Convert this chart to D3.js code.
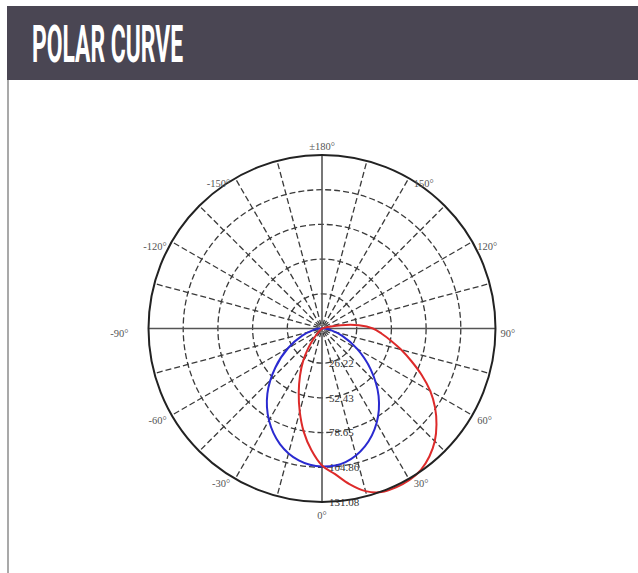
<!DOCTYPE html>
<html>
<head>
<meta charset="utf-8">
<script src="https://cdn.jsdelivr.net/npm/d3@7"></script>
<style>
  body { margin: 0; background: #fff; }
</style>
</head>
<body>
<div id="chart"></div>
<script>
// ring values (cd) and the angle labels around the dial
const ringValues = [26.22, 52.43, 78.65, 104.86, 131.08];
const gridAngles = [15, 30, 45, 60, 75, 105, 120, 135, 150, 165, 195, 210, 225, 240, 255, 285, 300, 315, 330, 345];
const axisAngles = [0, 90];
const labelAngles = [0, 30, 60, 90, 120, 150, 180, -150, -120, -90, -60, -30];
const labelTexts = ["0°", "30°", "60°", "90°", "120°", "150°", "±180°", "-150°", "-120°", "-90°", "-60°", "-30°"];

// C0-C180 plane (blue)
const blueAngles = [-100, -90, -80, -70, -60, -50, -40, -30, -20, -10, 0, 10, 20, 30, 40, 50, 60, 70, 80, 90, 100];
const blueValues = [0, 2.3, 6.8, 15.9, 29.5, 46.1, 64.2, 80.1, 92.9, 101.2, 104.3, 102.5, 94.8, 82.5, 66.5, 48.0, 30.5, 16.3, 6.8, 2.3, 0];

// C90-C270 plane (red)
const redAngles = [-50, -45, -40, -35, -30, -25, -20, -15, -10, -5, 0, 5, 10, 15, 20, 25, 30, 35, 40, 45, 50, 55, 60, 65, 70, 75, 80, 85, 90, 95, 100, 105, 110];
const redValues = [0, 3.0, 9.1, 18.1, 28.7, 39.3, 51.4, 65.0, 79.3, 92.2, 103.5, 110.3, 119.4, 127.2, 131.5, 132.4, 132.2, 130.3, 126.2, 120.5, 112.9, 104.3, 94.4, 83.1, 71.8, 62.0, 52.9, 45.3, 38.5, 28.0, 14.4, 4.5, 0];

const width = 638, height = 573;
const cx = 322, cy = 328.5, R = 173.5;

const svg = d3.select("#chart").append("svg")
  .attr("width", width).attr("height", height);

// header bar
svg.append("rect").attr("x", 7).attr("y", 6).attr("width", width - 7).attr("height", 74)
  .attr("fill", "#4a4653");
svg.append("text").text("POLAR CURVE")
  .attr("x", 32).attr("y", 62)
  .attr("font-family", "Roboto").attr("font-weight", 700).attr("font-size", 51)
  .attr("textLength", 151).attr("lengthAdjust", "spacingAndGlyphs")
  .attr("fill", "#fff");
svg.append("line").attr("x1", 8).attr("x2", 8).attr("y1", 80).attr("y2", height)
  .attr("stroke", "#8c8c8c").attr("stroke-width", 1.5);

const r = d3.scaleLinear().domain([0, 131.08]).range([0, R]);
const rad = d => d * Math.PI / 180;
const px = (a, rr) => cx + rr * Math.sin(rad(a));
const py = (a, rr) => cy + rr * Math.cos(rad(a));

const g = svg.append("g");

// dashed rings
g.selectAll(".ring").data(ringValues.slice(0, -1)).join("circle")
  .attr("cx", cx).attr("cy", cy).attr("r", d => r(d))
  .attr("fill", "none").attr("stroke", "#3a3a3a").attr("stroke-width", 1.3)
  .attr("stroke-dasharray", "6,3");

// dashed spokes
g.selectAll(".spoke").data(gridAngles).join("line")
  .attr("x1", d => px(d, 3)).attr("y1", d => py(d, 3))
  .attr("x2", d => px(d, R)).attr("y2", d => py(d, R))
  .attr("stroke", "#3a3a3a").attr("stroke-width", 1.3)
  .attr("stroke-dasharray", "6,3");

// solid axes
g.selectAll(".axis").data(axisAngles).join("line")
  .attr("x1", d => px(d, R)).attr("y1", d => py(d, R))
  .attr("x2", d => px(d + 180, R)).attr("y2", d => py(d + 180, R))
  .attr("stroke", "#555").attr("stroke-width", 1.6);

// small ring at pole
g.append("circle").attr("cx", cx).attr("cy", cy).attr("r", 4)
  .attr("fill", "none").attr("stroke", "#999").attr("stroke-width", 1);

// ring value labels
g.selectAll(".rlab").data(ringValues).join("text")
  .attr("x", cx + 7).attr("y", d => cy + r(d))
  .attr("dy", "0.35em")
  .attr("font-family", "Liberation Serif").attr("font-size", 11)
  .attr("fill", "#333")
  .text(d => d.toFixed(2));

// curves
const line = d3.lineRadial()
  .angle(d => Math.PI - rad(d.a))
  .radius(d => r(d.v))
  .curve(d3.curveCatmullRomClosed.alpha(0.5));

const blue = blueAngles.map((a, i) => ({ a, v: blueValues[i] }));
const red = redAngles.map((a, i) => ({ a, v: redValues[i] }));

g.append("path").datum(blue)
  .attr("transform", `translate(${cx},${cy})`)
  .attr("d", line).attr("fill", "none")
  .attr("stroke", "#2a2ad0").attr("stroke-width", 2);
g.append("path").datum(red)
  .attr("transform", `translate(${cx},${cy})`)
  .attr("d", line).attr("fill", "none")
  .attr("stroke", "#dd2a2a").attr("stroke-width", 2);

// outer circle
g.append("circle").attr("cx", cx).attr("cy", cy).attr("r", R)
  .attr("fill", "none").attr("stroke", "#222").attr("stroke-width", 2);

// angle labels: top/bottom centred, sides hang off the rim
const side = d => (d === 0 || d === 180) ? 0 : Math.sign(d);
g.selectAll(".alab").data(labelAngles).join("text")
  .attr("x", d => px(d, R) + side(d) * 5 + (d === -90 ? -15 : 0))
  .attr("y", d => d === 0 ? cy + R + 13 : d === 180 ? cy - R - 9 : py(d, R) + 5)
  .attr("dy", "0.35em")
  .attr("text-anchor", d => side(d) > 0 ? "start" : side(d) < 0 ? "end" : "middle")
  .attr("font-family", "Liberation Serif").attr("font-size", 10.5)
  .attr("fill", "#555")
  .text((d, i) => labelTexts[i]);
</script>
</body>
</html>
